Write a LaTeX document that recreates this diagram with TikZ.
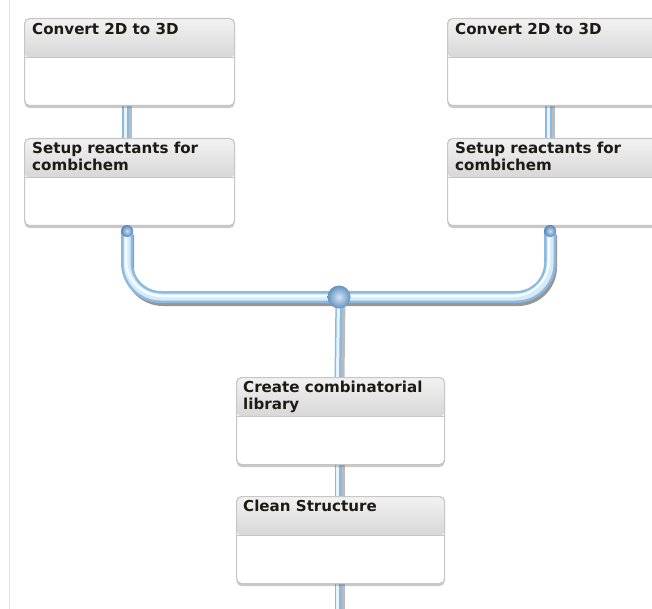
\documentclass[tikz,border=0pt]{standalone}
\usepackage{fontspec}
\setmainfont{DejaVu Sans}
\usetikzlibrary{shadows,calc}
\definecolor{boxline}{HTML}{C6C6C6}
\definecolor{hdtop}{HTML}{F2F2F2}
\definecolor{hdbot}{HTML}{B6B6B6}
\definecolor{titletext}{HTML}{1E1A14}
\definecolor{pipeedge}{HTML}{8DB9DC}
\definecolor{pipemid}{HTML}{C4E2F6}
\definecolor{pipeshade}{HTML}{9AA0A8}
\definecolor{ballblue}{HTML}{5A94CE}
\definecolor{bigball}{HTML}{6FA3D6}
\definecolor{sideline}{HTML}{E2E2E2}
\tikzset{
  task/.style={rectangle, draw=boxline, line width=1.2pt, fill=white,
    minimum width=210pt, minimum height=87pt, anchor=north west, inner sep=0pt,
    rounded corners=5pt,
    drop shadow={shadow xshift=0pt, shadow yshift=-2.5pt, opacity=0.35, fill=black!60},
    path picture={\shade[top color=hdtop, bottom color=hdbot]
      (path picture bounding box.north west) rectangle
      ([yshift=-39pt]path picture bounding box.north east);
      \draw[boxline, line width=1pt]
      ([yshift=-39pt]path picture bounding box.north west) --
      ([yshift=-39pt]path picture bounding box.north east);}},
  tasktitle/.style={anchor=north west, inner sep=0pt, align=left,
    font=\bfseries\fontsize{15.1}{16.5}\selectfont, text=titletext},
  linkshade/.style={line width=4pt, pipeshade!70},
  linkbody/.style={line width=7pt, pipeedge},
  linkcore/.style={line width=3pt, pipemid!40!white},
  pipeshadow/.style={line width=10pt, black!75, opacity=0.55},
  pipebody/.style={line width=12pt, pipeedge},
  pipecore/.style={line width=7pt, pipemid!70!white},
  pipeshine/.style={line width=2.5pt, white, opacity=0.8},
  joint/.style={inner color=#1!30!white, outer color=#1!90!black},
}
\begin{document}
\begin{tikzpicture}[x=1pt, y=-1pt]
\useasboundingbox (0,0) rectangle (652,609);
\clip (0,0) rectangle (652,609);
\fill[white] (0,0) rectangle (652,609);
% margin rule on the left
\draw[sideline, line width=1pt] (9.5,0) -- (9.5,609);

% short links between stacked tasks (drawn first, boxes cover the ends)
\coordinate (la) at (125.5,100);
\coordinate (lb) at (125.5,142);
\coordinate (ra) at (548.5,100);
\coordinate (rb) at (548.5,142);
\coordinate (ca) at (338,458);
\coordinate (cb) at (338,500);
\coordinate (cc) at (338,578);
\coordinate (cd) at (338,609);
\foreach \p/\q in {la/lb, ra/rb, ca/cb, cc/cd}{
  \draw[linkshade] ([xshift=4.5pt]\p) -- ([xshift=4.5pt]\q);
  \draw[linkbody] (\p) -- (\q);
  \draw[linkcore] ([xshift=-0.5pt]\p) -- ([xshift=-0.5pt]\q);
}

% task boxes
\node[task] (b1) at (24,18) {};
\node[task] (b2) at (24,138) {};
\node[task] (b3) at (447,18) {};
\node[task] (b4) at (447,138) {};
\node[task, minimum width=208pt] (b5) at (236,377) {};
\node[task, minimum width=208pt] (b6) at (236,496) {};

\node[tasktitle] (t1) at ([shift={(8,5)}]b1.north west) {Convert 2D to 3D};
\node[tasktitle] (t2) at ([shift={(8,4)}]b2.north west) {Setup reactants for\\combichem};
\node[tasktitle] (t3) at ([shift={(8,5)}]b3.north west) {Convert 2D to 3D};
\node[tasktitle] (t4) at ([shift={(8,4)}]b4.north west) {Setup reactants for\\combichem};
\node[tasktitle] (t5) at ([shift={(7,4)}]b5.north west) {Create combinatorial\\library};
\node[tasktitle] (t6) at ([shift={(7,4)}]b6.north west) {Clean Structure};

% merge connector
\coordinate (ml) at (127,231);
\coordinate (mr) at (550,231);
\coordinate (mj) at (339,297);
\coordinate (md) at (338,377);
\draw[pipeshadow, rounded corners=34pt, transform canvas={xshift=2pt, yshift=-4pt}] (ml) -- (127,297) -- (550,297) -- (mr);
\draw[pipebody, rounded corners=34pt] (ml) -- (127,297) -- (550,297) -- (mr);
\draw[pipecore, rounded corners=34pt] (ml) -- (127,297) -- (550,297) -- (mr);
\draw[pipeshine, rounded corners=36pt, transform canvas={xshift=-1pt, yshift=1pt}] ([yshift=6pt]ml) -- (127,297) -- (550,297) -- ([yshift=6pt]mr);
% trunk down to the library task
\draw[linkshade] ([xshift=4.5pt]mj) -- ([xshift=4.5pt]md);
\draw[linkbody] (mj) -- (md);
\draw[linkcore] ([xshift=-0.5pt]mj) -- ([xshift=-0.5pt]md);

% joints
\shade[joint=ballblue] (ml) circle (6pt);
\shade[joint=ballblue] (mr) circle (6pt);
\shade[joint=bigball] (mj) circle (11.5pt);
\end{tikzpicture}
\end{document}
